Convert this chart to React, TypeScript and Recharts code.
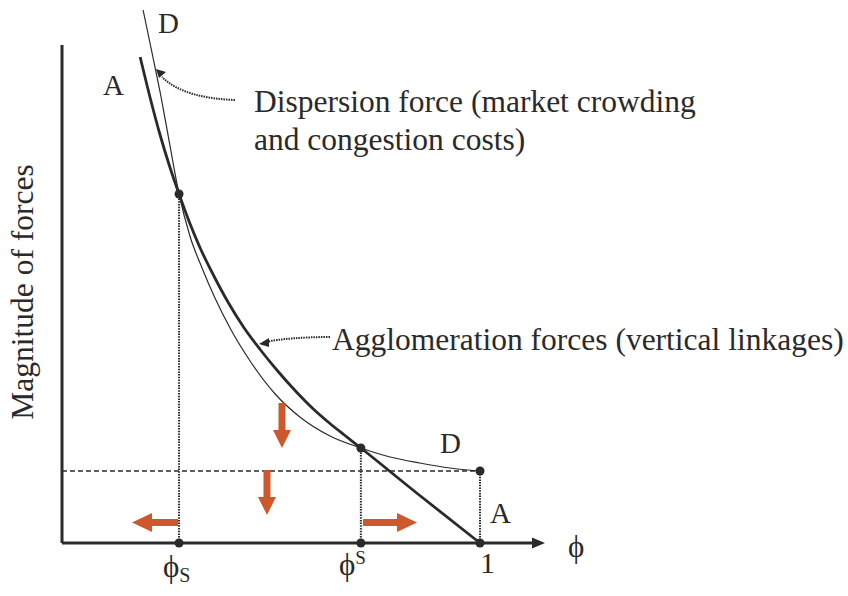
import React from "react";
import { LineChart, Line, XAxis, YAxis, ReferenceLine, ReferenceDot } from "recharts";

// dispersion force D(phi)
const dispersionPhi = [
  0.194, 0.215, 0.237, 0.258, 0.28, 0.306, 0.335, 0.366, 0.402, 0.45, 0.51,
  0.569, 0.641, 0.715, 0.785, 0.856, 0.928, 1.0,
];
const dispersionForce = [
  10.66, 9.82, 8.92, 7.96, 6.98, 6.14, 5.5, 4.9, 4.3, 3.64, 2.98, 2.52, 2.14,
  1.9, 1.72, 1.6, 1.5, 1.44,
];

// agglomeration force A(phi)
const agglomerationPhi = [
  0.187, 0.211, 0.234, 0.258, 0.28, 0.306, 0.33, 0.364, 0.397, 0.435, 0.474,
  0.517, 0.562, 0.6, 0.641, 0.677, 0.715, 0.856, 1.0,
];
const agglomerationForce = [
  9.72, 8.9, 8.18, 7.52, 6.98, 6.39, 5.91, 5.33, 4.82, 4.31, 3.87, 3.43, 3.01,
  2.69, 2.39, 2.15, 1.9, 0.95, 0,
];

// sustain / break points
const PHI_BREAK = 0.28;
const PHI_SUSTAIN = 0.715;
const FORCE_BREAK = 6.98;
const FORCE_SUSTAIN = 1.9;
const FORCE_AT_ONE = 1.44;

const dispersion = dispersionPhi.map((phi, i) => ({ phi, force: dispersionForce[i] }));
const agglomeration = agglomerationPhi.map((phi, i) => ({ phi, force: agglomerationForce[i] }));

const X_MAX = 786 / 418;
const Y_MAX = 10.86;
const X_AXIS_END = 1.1555;
const Y_AXIS_END = 9.96;

const INK = "#2a2a2a";
const ORANGE = "#cd582b";
const SERIF = "'Liberation Serif', 'Times New Roman', serif";
const PHI = "\u03d5";

type P = { cx?: number; cy?: number };

const text =
  (content: React.ReactNode, size: number) =>
  (p: P) => (
    <text x={p.cx} y={p.cy} fontSize={size} fill={INK} fontFamily={SERIF}>
      {content}
    </text>
  );

const yTitle = (p: P) => (
  <text
    x={p.cx}
    y={p.cy}
    fontSize={31.5}
    fill={INK}
    fontFamily={SERIF}
    textAnchor="middle"
    transform={`rotate(-90 ${p.cx} ${p.cy})`}
  >
    Magnitude of forces
  </text>
);

const dot = (p: P) => <circle cx={p.cx} cy={p.cy} r={4.5} fill={INK} />;

// block arrow pointing down, tip at anchor
const arrowDown = (p: P) => {
  const x = p.cx ?? 0;
  const y = p.cy ?? 0;
  const pts = [
    [x - 3.5, y - 45], [x + 3.5, y - 45], [x + 3.5, y - 18], [x + 9, y - 18],
    [x, y], [x - 9, y - 18], [x - 3.5, y - 18],
  ];
  return <polygon points={pts.map((q) => q.join(",")).join(" ")} fill={ORANGE} />;
};

// horizontal block arrow, tip at anchor, dir = -1 left / +1 right
const arrowSide = (dir: number, len: number) => (p: P) => {
  const x = p.cx ?? 0;
  const y = p.cy ?? 0;
  const pts = [
    [x - dir * len, y - 3.5], [x - dir * 20, y - 3.5], [x - dir * 20, y - 9.5],
    [x, y], [x - dir * 20, y + 9.5], [x - dir * 20, y + 3.5], [x - dir * len, y + 3.5],
  ];
  return <polygon points={pts.map((q) => q.join(",")).join(" ")} fill={ORANGE} />;
};

const axisHead = (p: P) => {
  const x = p.cx ?? 0;
  const y = p.cy ?? 0;
  return <polygon points={`${x},${y} ${x - 13},${y - 5.5} ${x - 13},${y + 5.5}`} fill={INK} />;
};

// dotted pointer, tip at anchor, path given as offsets from tip
const pointer = (d: string, head: string) => (p: P) => (
  <g transform={`translate(${p.cx},${p.cy})`}>
    <path d={d} fill="none" stroke={INK} strokeWidth={2} strokeDasharray="1.5 1" />
    <polygon points={head} fill={INK} />
  </g>
);

const vDotted = { stroke: INK, strokeWidth: 2, strokeDasharray: "1.5 1.2" };

export default function App() {
  return (
    <div style={{ position: "absolute", left: 0, top: 0, width: 848, height: 596, background: "#fff" }}>
      <LineChart width={848} height={596} margin={{ top: 0, right: 0, left: 62, bottom: 53 }}>
        <XAxis type="number" dataKey="phi" domain={[0, X_MAX]} hide />
        <YAxis type="number" dataKey="force" domain={[0, Y_MAX]} hide />

        {/* guide lines */}
        <ReferenceLine
          segment={[{ x: 0, y: FORCE_AT_ONE }, { x: 1, y: FORCE_AT_ONE }]}
          stroke={INK}
          strokeWidth={1.5}
          strokeDasharray="5 3"
        />
        <ReferenceLine segment={[{ x: PHI_BREAK, y: 0 }, { x: PHI_BREAK, y: FORCE_BREAK }]} {...vDotted} />
        <ReferenceLine segment={[{ x: PHI_SUSTAIN, y: 0 }, { x: PHI_SUSTAIN, y: FORCE_SUSTAIN }]} {...vDotted} />
        <ReferenceLine segment={[{ x: 1, y: 0 }, { x: 1, y: FORCE_AT_ONE }]} {...vDotted} />

        {/* axes */}
        <ReferenceLine segment={[{ x: 0, y: 0 }, { x: 0, y: Y_AXIS_END }]} stroke={INK} strokeWidth={3} />
        <ReferenceLine segment={[{ x: 0, y: 0 }, { x: X_AXIS_END - 0.02, y: 0 }]} stroke={INK} strokeWidth={3} />
        <ReferenceDot x={X_AXIS_END} y={0} shape={axisHead} ifOverflow="visible" />

        <Line
          data={dispersion}
          dataKey="force"
          type="monotone"
          stroke={INK}
          strokeWidth={1.2}
          dot={false}
          isAnimationActive={false}
        />
        <Line
          data={agglomeration}
          dataKey="force"
          type="monotone"
          stroke={INK}
          strokeWidth={2.8}
          dot={false}
          isAnimationActive={false}
        />

        {/* equilibrium markers */}
        <ReferenceDot x={PHI_BREAK} y={FORCE_BREAK} shape={dot} ifOverflow="visible" />
        <ReferenceDot x={PHI_SUSTAIN} y={FORCE_SUSTAIN} shape={dot} ifOverflow="visible" />
        <ReferenceDot x={1} y={FORCE_AT_ONE} shape={dot} ifOverflow="visible" />
        <ReferenceDot x={PHI_BREAK} y={0} shape={dot} ifOverflow="visible" />
        <ReferenceDot x={PHI_SUSTAIN} y={0} shape={dot} ifOverflow="visible" />
        <ReferenceDot x={1} y={0} shape={dot} ifOverflow="visible" />

        {/* direction arrows */}
        <ReferenceDot x={0.5263} y={1.9} shape={arrowDown} ifOverflow="visible" />
        <ReferenceDot x={0.4904} y={0.56} shape={arrowDown} ifOverflow="visible" />
        <ReferenceDot x={0.1675} y={0.41} shape={arrowSide(-1, 46)} ifOverflow="visible" />
        <ReferenceDot x={0.8493} y={0.41} shape={arrowSide(1, 54)} ifOverflow="visible" />

        {/* pointers to the curves */}
        <ReferenceDot
          x={0.2249}
          y={9.48}
          ifOverflow="visible"
          shape={pointer("M 79 31 C 50 30 22 24 6 8", "0,0 10,3 3,9")}
        />
        <ReferenceDot
          x={0.4713}
          y={3.98}
          ifOverflow="visible"
          shape={pointer("M 71 -7 C 45 -7 20 -5 7 -2", "0,0 10,-6 10,3")}
        />

        {/* curve and axis labels */}
        <ReferenceDot x={0.2297} y={10.2} shape={text("D", 29)} ifOverflow="visible" />
        <ReferenceDot x={0.098} y={8.96} shape={text("A", 29)} ifOverflow="visible" />
        <ReferenceDot x={0.9043} y={1.8} shape={text("D", 29)} ifOverflow="visible" />
        <ReferenceDot x={1.0239} y={0.4} shape={text("A", 29)} ifOverflow="visible" />
        <ReferenceDot x={0.4593} y={8.62} shape={text("Dispersion force (market crowding", 31.5)} ifOverflow="visible" />
        <ReferenceDot x={0.4593} y={7.86} shape={text("and congestion costs)", 31.5)} ifOverflow="visible" />
        <ReferenceDot
          x={0.6459}
          y={3.86}
          shape={text("Agglomeration forces (vertical linkages)", 31.5)}
          ifOverflow="visible"
        />
        <ReferenceDot x={-0.069} y={5.02} shape={yTitle} ifOverflow="visible" />
        <ReferenceDot x={1.2105} y={-0.28} shape={text(PHI, 31)} ifOverflow="visible" />

        {/* tick labels */}
        <ReferenceDot
          x={0.2416}
          y={-0.68}
          ifOverflow="visible"
          shape={text(
            <>
              {PHI}
              <tspan fontSize={20} dy={5}>S</tspan>
            </>,
            31,
          )}
        />
        <ReferenceDot
          x={0.6627}
          y={-0.64}
          ifOverflow="visible"
          shape={text(
            <>
              {PHI}
              <tspan fontSize={19} dy={-11}>S</tspan>
            </>,
            31,
          )}
        />
        <ReferenceDot x={1.0} y={-0.6} shape={text("1", 30)} ifOverflow="visible" />
      </LineChart>
    </div>
  );
}
